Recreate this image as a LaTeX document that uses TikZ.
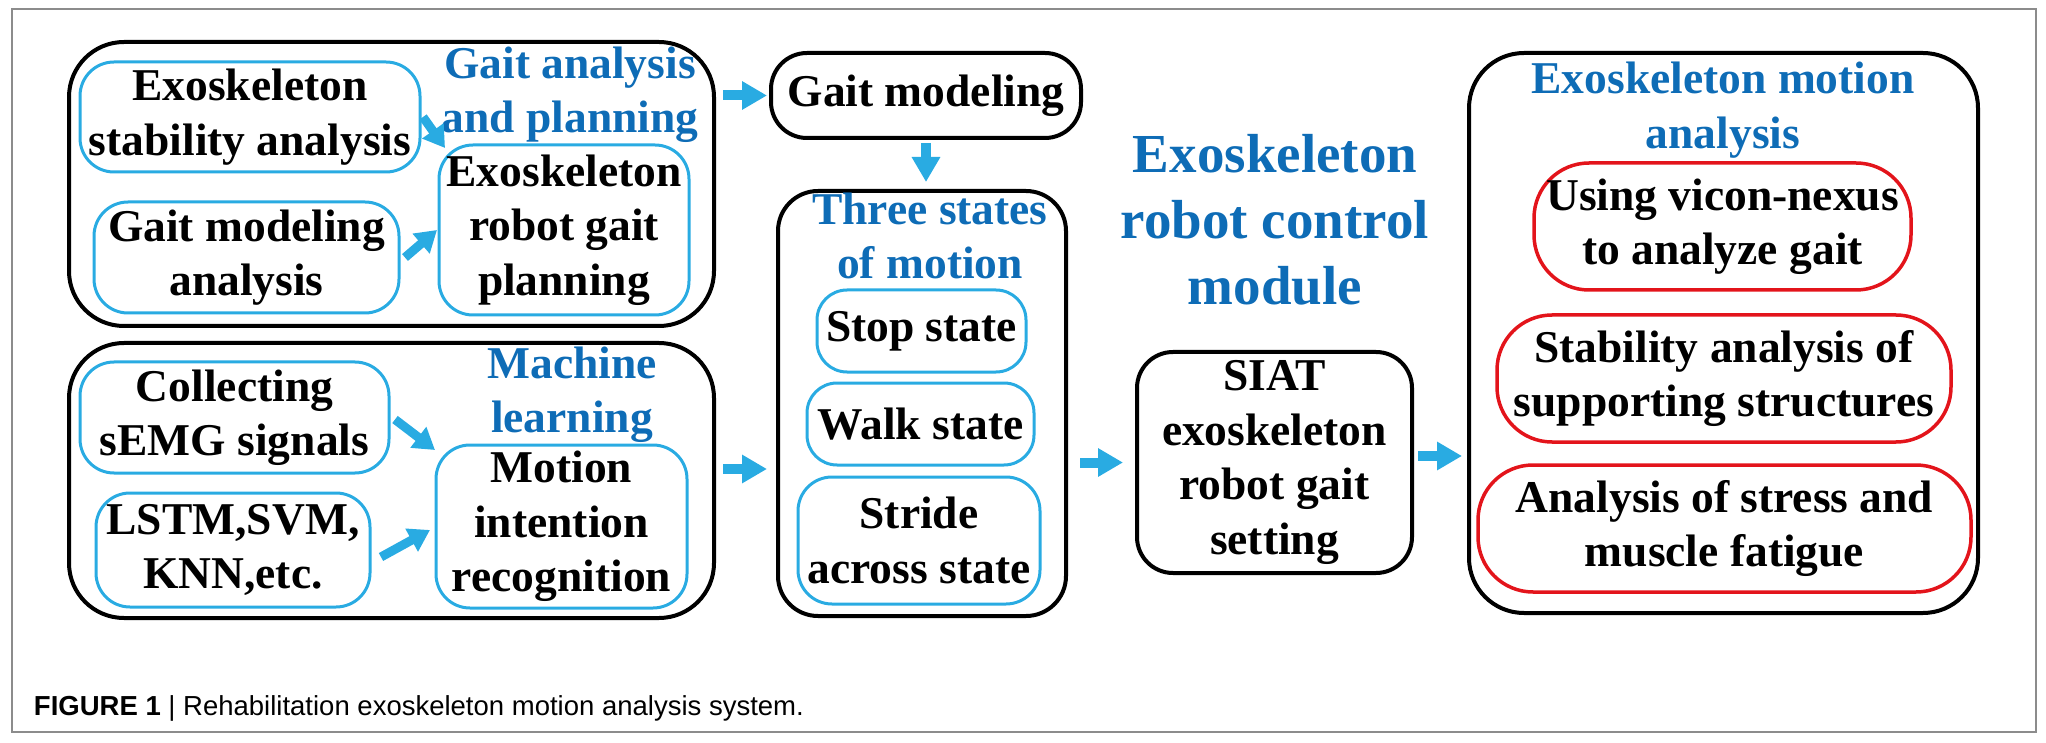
\documentclass[tikz,border=0pt]{standalone}
\usepackage{fontspec}
\setmainfont{Liberation Serif}
\setsansfont{Liberation Sans}
\usetikzlibrary{arrows.meta}
\definecolor{boxblue}{HTML}{29ABE2}
\definecolor{titleblue}{HTML}{0E6CB6}
\definecolor{boxred}{HTML}{E3141B}
\definecolor{framegray}{HTML}{8C8C8C}
\begin{document}
\begin{tikzpicture}[x=1pt,y=-1pt,
  every node/.style={inner sep=0pt, outer sep=0pt},
  txt/.style={font=\fontsize{45.5}{54.5}\selectfont\bfseries, align=center},
  titletxt/.style={txt, text=titleblue},
  blackbox/.style={draw=black, line width=4pt, rounded corners=#1, txt},
  blackbox/.default=40pt,
  bluebox/.style={draw=boxblue, line width=3pt, rounded corners=#1, txt},
  bluebox/.default=34pt,
  redbox/.style={draw=boxred, line width=3.5pt, rounded corners=#1, txt},
  redbox/.default=55pt,
  barrow/.style={draw=boxblue, line width=10pt, -{Triangle[length=25pt,width=27pt]}},
  sarrow/.style={draw=boxblue, line width=9pt, -{Triangle[length=21pt,width=25pt]}}
]
\useasboundingbox (0,0) rectangle (2046,743);
\draw[framegray, line width=1.5pt] (12,9) rectangle (2036,732);

% left column
\node[blackbox=55pt, minimum width=645pt, minimum height=284pt] (A) at (391.5,184) {};
\node[blackbox=55pt, minimum width=645pt, minimum height=275pt] (B) at (391.5,480.5) {};
\node[titletxt] (tA) at (570,94.5) {Gait analysis\\and planning};
\node[titletxt] (tB) at (572,394.5) {Machine\\learning};
\node[bluebox, minimum width=340pt, minimum height=110pt] (A1) at (250,117) {Exoskeleton\\stability analysis};
\node[bluebox, minimum width=305pt, minimum height=111pt] (A2) at (246.5,257.5) {Gait modeling\\analysis};
\node[bluebox, minimum width=250pt, minimum height=170pt] (A3) at (564,230) {Exoskeleton\\robot gait\\planning};
\node[bluebox, minimum width=309pt, minimum height=111pt] (B1) at (234.5,417.5) {Collecting\\sEMG signals};
\node[bluebox, minimum width=274pt, minimum height=114pt] (B2) at (233,550) {LSTM,SVM,\\KNN,etc.};
\node[bluebox, minimum width=251pt, minimum height=163pt] (B3) at (561.5,526.5) {Motion\\intention\\recognition};

% middle column
\node[blackbox=36pt, minimum width=310pt, minimum height=85pt] (GM) at (926,95.5) {Gait modeling};
\node[blackbox=40pt, minimum width=288pt, minimum height=425pt] (C) at (922,403.5) {};
\node[titletxt] (tC) at (930,236) {Three states\\of motion};
\node[bluebox=30pt, minimum width=209pt, minimum height=82pt] (C1) at (921.5,331) {Stop state};
\node[bluebox=30pt, minimum width=227pt, minimum height=82pt] (C2) at (920.5,424) {Walk state};
\node[bluebox=34pt, minimum width=242pt, minimum height=127pt] (C3) at (919,540.5) {Stride\\across state};

% control module
\node[titletxt, font=\fontsize{55}{66}\selectfont\bfseries] (tM) at (1275,220) {Exoskeleton\\robot control\\module};
\node[blackbox=36pt, minimum width=275pt, minimum height=221pt] (D) at (1274.5,462.5) {SIAT\\exoskeleton\\robot gait\\setting};

% right column
\node[blackbox=55pt, minimum width=509pt, minimum height=560pt] (E) at (1723.5,333) {};
\node[titletxt] (tE) at (1723,110) {Exoskeleton motion\\analysis};
\node[redbox, minimum width=377pt, minimum height=127pt] (E1) at (1722.5,226.5) {Using vicon-nexus\\to analyze gait};
\node[redbox, minimum width=454pt, minimum height=127pt] (E2) at (1724,378.5) {Stability analysis of\\supporting structures};
\node[redbox, minimum width=493pt, minimum height=127pt] (E3) at (1724.5,528.5) {Analysis of stress and\\muscle fatigue};

% arrows
\coordinate (ybc) at (0,469);
\draw[barrow, shorten <=9pt, shorten >=4pt] (A.east |- GM.west) -- (GM.west);
\draw[barrow, shorten <=5pt, shorten >=9pt] (GM.south) -- (GM.south |- C.north);
\draw[barrow, shorten <=9pt, shorten >=11pt] (B.east |- ybc) -- (C.west |- ybc);
\draw[barrow, shorten <=14pt, shorten >=14pt] (C.east |- D.west) -- (D.west);
\coordinate (yde) at (0,456);
\draw[barrow, shorten <=6pt, shorten >=7pt] (D.east |- yde) -- (E.west |- yde);
\draw[sarrow] ([xshift=3pt]A1.east) -- ([xshift=6pt,yshift=-3pt]A3.north west);
\draw[sarrow] ([xshift=6pt]A2.east) -- ([xshift=-2pt]A3.west);
\draw[sarrow] ([xshift=6pt,yshift=-2pt]B1.east) -- ([xshift=-1pt,yshift=-5pt]B3.north west);
\draw[sarrow] ([xshift=11pt,yshift=-7pt]B2.east) -- ([xshift=-6pt,yshift=-3.5pt]B3.west);

% caption
\node[anchor=base west, font=\sffamily\fontsize{27.5}{31}\selectfont] (cap) at (34,715) {\textbf{FIGURE 1} | Rehabilitation exoskeleton motion analysis system.};
\end{tikzpicture}
\end{document}
